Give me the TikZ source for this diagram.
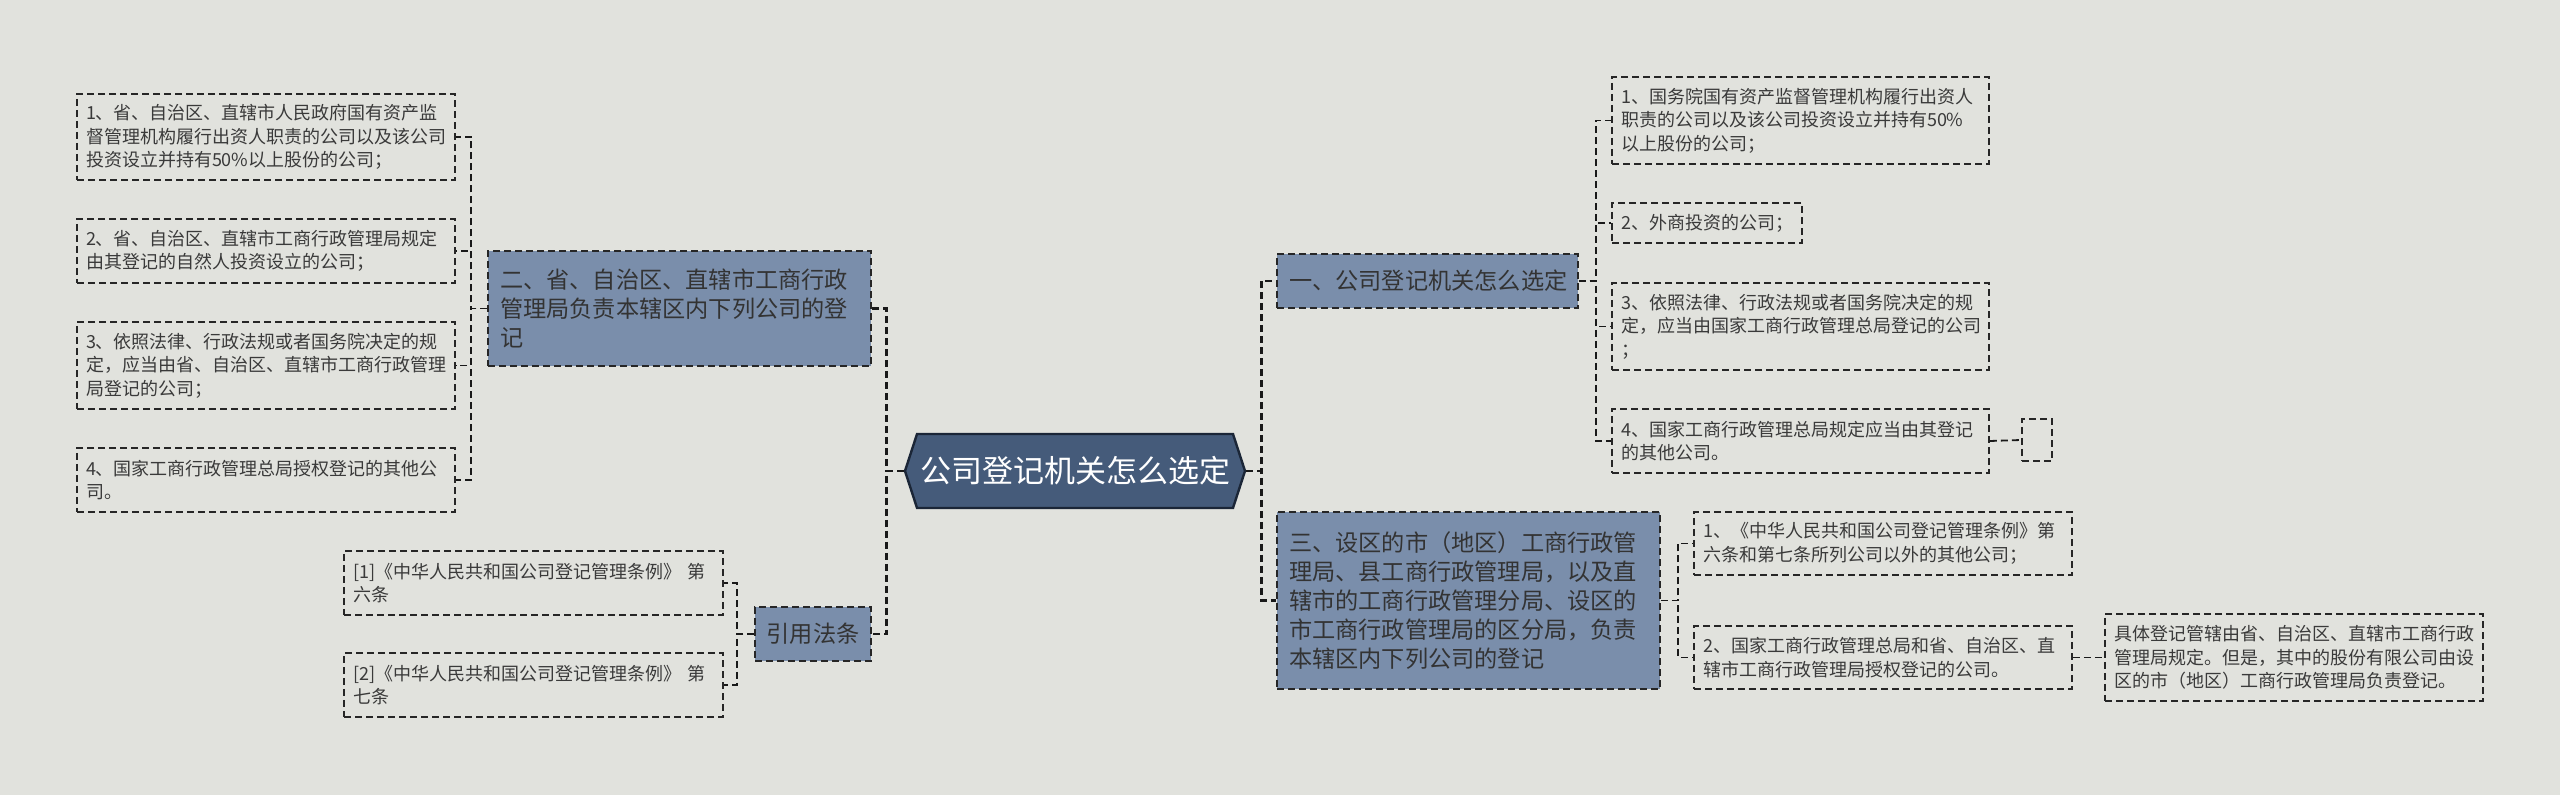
\documentclass[tikz,border=0pt]{standalone}
\usepackage{fontspec}
\setmainfont{Noto Sans CJK SC}
\usetikzlibrary{shapes.symbols}
\definecolor{bgcol}{HTML}{E1E2DD}
\definecolor{rootfill}{HTML}{455B7A}
\definecolor{rootline}{HTML}{1B2637}
\definecolor{branchfill}{HTML}{7A8EAB}
\definecolor{inktext}{HTML}{3A3A3A}
\tikzset{
  leaf/.style={draw=black!85, line width=0.8pt, dash pattern=on 3.5pt off 2pt,
    text=inktext, align=left, inner xsep=4.5pt, inner ysep=0pt,
    font=\fontsize{9}{11.7}\selectfont},
  branch/.style={fill=branchfill, draw=black!85, line width=0.8pt,
    dash pattern=on 3.5pt off 2pt, text=black!80, align=left, inner xsep=6pt,
    inner ysep=0pt, font=\fontsize{11.6}{14.5}\selectfont},
  link/.style={draw=black!90, line width=0.9pt, dash pattern=on 3.5pt off 2pt},
}

\begin{document}
\begin{tikzpicture}[x=0.5pt, y=-0.5pt]
  % background, also fixes the page size
  \fill[bgcol] (0,0) rectangle (2560,795);

  % centre
  \node[signal, signal to=west and east, signal pointer angle=144,
    fill=rootfill, draw=rootline, line width=1.2pt, text=white, inner sep=0pt,
    minimum width=170pt, minimum height=37pt,
    font=\fontsize{15.5}{18}\selectfont] (root) at (1075,471) {公司登记机关怎么选定};

  % left side
  \node[branch, text width=179.5pt, minimum height=57.5pt] (b2) at (679.5,308.5)
    {二、省、自治区、直辖市工商行政\\管理局负责本辖区内下列公司的登\\记};
  \node[leaf, text width=180pt, minimum height=43pt] (c1) at (266,137)
    {1、省、自治区、直辖市人民政府国有资产监\\督管理机构履行出资人职责的公司以及该公司\\投资设立并持有50\%以上股份的公司；};
  \node[leaf, text width=180pt, minimum height=32pt] (c2) at (266,251)
    {2、省、自治区、直辖市工商行政管理局规定\\由其登记的自然人投资设立的公司；};
  \node[leaf, text width=180pt, minimum height=43.5pt] (c3) at (266,365.5)
    {3、依照法律、行政法规或者国务院决定的规\\定，应当由省、自治区、直辖市工商行政管理\\局登记的公司；};
  \node[leaf, text width=180pt, minimum height=32pt] (c4) at (266,480)
    {4、国家工商行政管理总局授权登记的其他公\\司。};

  \node[branch, align=center, inner xsep=4pt, minimum width=58pt, minimum height=27pt]
    (laws) at (813,634) {引用法条};
  \node[leaf, text width=180.5pt, minimum height=32pt] (r1) at (533.5,583)
    {[1]《中华人民共和国公司登记管理条例》~第\\六条};
  \node[leaf, text width=180.5pt, minimum height=32pt] (r2) at (533.5,685)
    {[2]《中华人民共和国公司登记管理条例》~第\\七条};

  % right side
  \node[branch, text width=138.5pt, minimum height=27pt] (b1) at (1427.5,281)
    {一、公司登记机关怎么选定};
  \node[leaf, text width=179.5pt, minimum height=43.5pt] (d1) at (1800.5,120.5)
    {1、国务院国有资产监督管理机构履行出资人\\职责的公司以及该公司投资设立并持有50\%\\以上股份的公司；};
  \node[leaf, text width=86pt, minimum height=20pt] (d2) at (1707,223)
    {2、外商投资的公司；};
  \node[leaf, text width=179.5pt, minimum height=43.5pt] (d3) at (1800.5,326.5)
    {3、依照法律、行政法规或者国务院决定的规\\定，应当由国家工商行政管理总局登记的公司\\；};
  \node[leaf, text width=179.5pt, minimum height=32pt] (d4) at (1800.5,441)
    {4、国家工商行政管理总局规定应当由其登记\\的其他公司。};
  \node[leaf, inner sep=0pt, minimum width=15pt, minimum height=21pt] (d5) at (2037,440) {};

  \node[branch, text width=179.5pt, minimum height=88.5pt] (b3) at (1468.5,600.5)
    {三、设区的市（地区）工商行政管\\理局、县工商行政管理局，以及直\\辖市的工商行政管理分局、设区的\\市工商行政管理局的区分局，负责\\本辖区内下列公司的登记};
  \node[leaf, text width=180pt, minimum height=31.5pt] (e1) at (1883,543.5)
    {1、《中华人民共和国公司登记管理条例》第\\六条和第七条所列公司以外的其他公司；};
  \node[leaf, text width=180pt, minimum height=31.5pt] (e2) at (1883,657.5)
    {2、国家工商行政管理总局和省、自治区、直\\辖市工商行政管理局授权登记的公司。};
  \node[leaf, text width=180pt, minimum height=43.5pt] (f1) at (2294,657.5)
    {具体登记管辖由省、自治区、直辖市工商行政\\管理局规定。但是，其中的股份有限公司由设\\区的市（地区）工商行政管理局负责登记。};

  % connectors
  \draw[link, line width=1.3pt] (root.west) -- ++(-17,0) |- (b2.east);
  \draw[link, line width=1.3pt] (root.west) -- ++(-17,0) |- (laws.east);
  \draw[link, line width=1.3pt] (root.east) -- ++(15,0) |- (b1.west);
  \draw[link, line width=1.3pt] (root.east) -- ++(15,0) |- (b3.west);
  \draw[link] (b2.west) -- ++(-16,0) |- (c1.east);
  \draw[link] (b2.west) -- ++(-16,0) |- (c2.east);
  \draw[link] (b2.west) -- ++(-16,0) |- (c3.east);
  \draw[link] (b2.west) -- ++(-16,0) |- (c4.east);
  \draw[link] (laws.west) -- ++(-17,0) |- (r1.east);
  \draw[link] (laws.west) -- ++(-17,0) |- (r2.east);
  \draw[link] (b1.east) -- ++(17,0) |- (d1.west);
  \draw[link] (b1.east) -- ++(17,0) |- (d2.west);
  \draw[link] (b1.east) -- ++(17,0) |- (d3.west);
  \draw[link] (b1.east) -- ++(17,0) |- (d4.west);
  \draw[link] (d4.east) -- (d5.west);
  \draw[link] (b3.east) -- ++(17,0) |- (e1.west);
  \draw[link] (b3.east) -- ++(17,0) |- (e2.west);
  \draw[link] (e2.east) -- (f1.west);
\end{tikzpicture}
\end{document}
